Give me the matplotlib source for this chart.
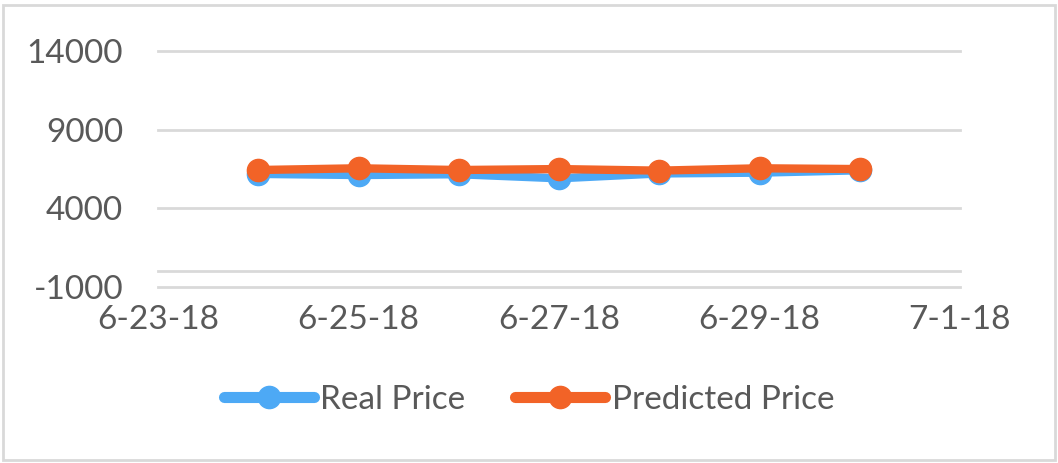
import datetime as dt
import matplotlib
matplotlib.use("Agg")
import matplotlib.pyplot as plt
import matplotlib.dates as mdates
from matplotlib.patches import Rectangle

plt.rcParams['font.family'] = ['Lato', 'DejaVu Sans']
plt.rcParams['axes.unicode_minus'] = False

# data
days = [dt.date(2018, 6, d) for d in range(24, 31)]
real_price = [6170, 6100, 6150, 5890, 6200, 6250, 6400]
predicted_price = [6420, 6530, 6420, 6480, 6380, 6530, 6480]
tick_days = [dt.date(2018, 6, 23), dt.date(2018, 6, 25), dt.date(2018, 6, 27),
             dt.date(2018, 6, 29), dt.date(2018, 7, 1)]
y_ticks = [-1000, 4000, 9000, 14000]

blue = '#4DA9F5'
orange = '#F26327'
grid_col = '#D9D9D9'
text_col = '#595959'

fig = plt.figure(figsize=(10.58, 4.63), dpi=100)
ax = fig.add_axes([158 / 1058, 1 - 286.5 / 463, (960 - 158) / 1058, (286.5 - 51) / 463])

ax.plot(days, real_price, '-o', color=blue, lw=6, ms=16, label='Real Price',
        solid_capstyle='round', zorder=3)
ax.plot(days, predicted_price, '-o', color=orange, lw=6, ms=16, label='Predicted Price',
        solid_capstyle='round', zorder=4)

ax.set_xlim(tick_days[0], tick_days[-1])
ax.set_ylim(y_ticks[0], y_ticks[-1])
ax.set_yticks(y_ticks)
ax.set_xticks(tick_days)
ax.xaxis.set_major_formatter(plt.FuncFormatter(
    lambda v, p: (lambda d: f"{d.month}-{d.day}-{d.strftime('%y')}")(mdates.num2date(v))))

for y in y_ticks:
    ax.axhline(y, color=grid_col, lw=2, zorder=1)
ax.axhline(0, color=grid_col, lw=2, zorder=1)

for s in ax.spines.values():
    s.set_visible(False)
ax.tick_params(length=0, labelsize=24, colors=text_col)
ax.tick_params(axis='y', pad=25)
ax.tick_params(axis='x', pad=13)
for line in ax.lines:
    line.set_clip_on(False)

leg = fig.legend(loc='center', bbox_to_anchor=(0.5, 1 - 400 / 463), ncol=2, frameon=False,
                 fontsize=24, handlelength=2.7, handletextpad=0.2, columnspacing=1.5)
for t in leg.get_texts():
    t.set_color(text_col)
for h in leg.legend_handles:
    h.set_linewidth(8)

fig.patches.append(Rectangle((3 / 1058, 3 / 463), 1052 / 1058, 455 / 463,
                             transform=fig.transFigure, fill=False,
                             edgecolor=grid_col, lw=2))

fig.savefig('out.png', dpi=100)
